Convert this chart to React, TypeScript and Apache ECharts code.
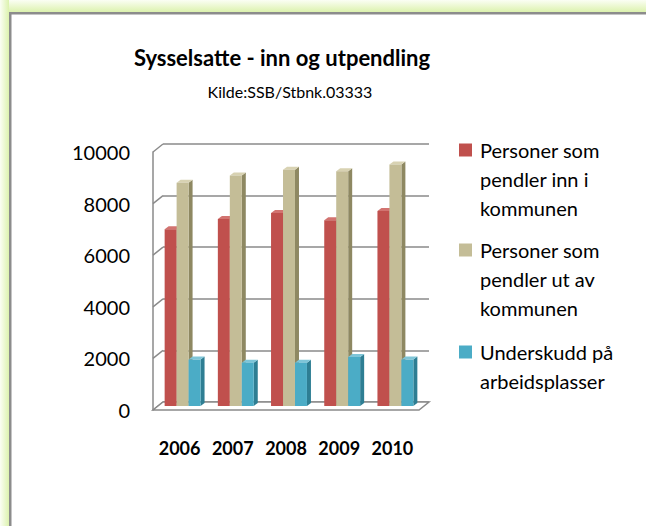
import React, { useEffect, useRef } from "react";
import * as echarts from "echarts";

const years = ["2006", "2007", "2008", "2009", "2010"];
const innPendling = [6850, 7250, 7480, 7200, 7560];
const utPendling = [8650, 8930, 9160, 9100, 9360];
const underskudd = [1800, 1680, 1680, 1900, 1800];
const yTicks = [0, 2000, 4000, 6000, 8000, 10000];

const seriesNames = [
  "Personer som\npendler inn i\nkommunen",
  "Personer som\npendler ut av\nkommunen",
  "Underskudd på\narbeidsplasser",
];
const faceColors = [
  { front: "#C0504D", side: "#8C3A37", top: "#D27370" },
  { front: "#C4BD97", side: "#8E8862", top: "#D8D2B2" },
  { front: "#4BACC6", side: "#2E7E93", top: "#7EC5D8" },
];

const FONT = "Lato, 'Open Sans', sans-serif";
const GRID_LEFT = 153;
const GRID_TOP = 152;
const GRID_W = 266;
const GRID_H = 258;
const DEPTH_X = 10;
const DEPTH_Y = 8;
const GRAY = "#8a8a8a";

function barSeries(k: number, values: number[]) {
  return {
    type: "custom",
    name: seriesNames[k],
    xAxisIndex: 0,
    yAxisIndex: 0,
    clip: false,
    z: 10 + k,
    data: values.map((v, i) => [i, v]),
    renderItem: (params: any, api: any) => {
      const idx = api.value(0);
      const v = api.value(1);
      const catW = api.size([1, 0])[0];
      const base = api.coord([idx, 0]);
      const top = api.coord([idx, v]);
      const bw = catW * 0.225;
      const x0 = base[0] - 1.5 * bw + k * bw + 3;
      const y0 = base[1] - 4;
      const yt = top[1] - 4;
      const dx = 4;
      const dy = 3;
      const c = faceColors[k];
      return {
        type: "group",
        children: [
          {
            type: "polygon",
            shape: {
              points: [
                [x0 + bw, y0],
                [x0 + bw + dx, y0 - dy],
                [x0 + bw + dx, yt - dy],
                [x0 + bw, yt],
              ],
            },
            style: { fill: c.side },
          },
          {
            type: "polygon",
            shape: {
              points: [
                [x0, yt],
                [x0 + bw, yt],
                [x0 + bw + dx, yt - dy],
                [x0 + dx, yt - dy],
              ],
            },
            style: { fill: c.top },
          },
          {
            type: "rect",
            shape: { x: x0, y: yt, width: bw, height: y0 - yt },
            style: { fill: c.front },
          },
        ],
      };
    },
  };
}

export default function App() {
  const ref = useRef<HTMLDivElement>(null);
  useEffect(() => {
    document.body.style.margin = "0";
    if (!ref.current) return;
    const chart = echarts.init(ref.current, undefined, { renderer: "svg" });
    const legendTop = [135.5, 235.5, 337.5];
    const legendGraphics: any[] = [];
    seriesNames.forEach((n, k) => {
      legendGraphics.push({
        type: "rect",
        shape: { x: 459, y: legendTop[k] + 8, width: 13, height: 13 },
        style: { fill: faceColors[k].front },
      });
      legendGraphics.push({
        type: "text",
        x: 480,
        y: legendTop[k],
        style: {
          text: n,
          font: `20px ${FONT}`,
          lineHeight: 29,
          fill: "#000",
          verticalAlign: "top",
        },
      });
    });

    chart.setOption({
      animation: false,
      backgroundColor: "#ffffff",
      title: [
        {
          text: "Sysselsatte - inn og utpendling",
          left: 277,
          top: 41,
          textAlign: "center",
          textStyle: { fontFamily: FONT, fontSize: 22, fontWeight: "bold", color: "#000" },
        },
        {
          text: "Kilde:SSB/Stbnk.03333",
          left: 285,
          top: 78,
          textAlign: "center",
          textStyle: { fontFamily: FONT, fontSize: 16, fontWeight: "normal", color: "#000" },
        },
      ],
      graphic: [
        {
          type: "rect",
          shape: { x: 0, y: 0, width: 646, height: 12 },
          style: {
            fill: new echarts.graphic.LinearGradient(0, 0, 0, 1, [
              { offset: 0, color: "#fbfef4" },
              { offset: 1, color: "#dcf2ae" },
            ]),
          },
        },
        {
          type: "rect",
          shape: { x: 0, y: 0, width: 9, height: 526 },
          style: {
            fill: new echarts.graphic.LinearGradient(0, 0, 1, 0, [
              { offset: 0, color: "#fbfef4" },
              { offset: 1, color: "#dcf2ae" },
            ]),
          },
        },
        {
          type: "rect",
          shape: { x: 9, y: 12, width: 637, height: 2.5 },
          style: { fill: "#8c8c8c" },
        },
        {
          type: "rect",
          shape: { x: 9, y: 12, width: 2.5, height: 514 },
          style: { fill: "#8c8c8c" },
        },
        ...legendGraphics,
      ],
      grid: [
        { left: GRID_LEFT, top: GRID_TOP, width: GRID_W, height: GRID_H },
        { left: GRID_LEFT + DEPTH_X, top: GRID_TOP - DEPTH_Y, width: GRID_W, height: GRID_H },
      ],
      xAxis: [
        {
          type: "category",
          gridIndex: 0,
          data: years,
          axisLine: { show: false },
          axisTick: { show: false },
          axisLabel: {
            interval: 0,
            margin: 29,
            fontFamily: FONT,
            fontSize: 18,
            fontWeight: "bold",
            color: "#000",
          },
        },
        {
          type: "category",
          gridIndex: 1,
          data: years,
          show: false,
        },
      ],
      yAxis: [
        {
          type: "value",
          gridIndex: 0,
          min: 0,
          max: 10000,
          interval: 2000,
          axisLine: { show: true, lineStyle: { color: GRAY, width: 1.5 } },
          axisTick: { show: false },
          splitLine: { show: false },
          axisLabel: {
            margin: 23,
            fontFamily: FONT,
            fontSize: 20,
            color: "#000",
            formatter: (v: number) => String(v),
          },
        },
        {
          type: "value",
          gridIndex: 1,
          min: 0,
          max: 10000,
          interval: 2000,
          axisLine: { show: false },
          axisTick: { show: false },
          axisLabel: { show: false },
          splitLine: { show: true, lineStyle: { color: GRAY, width: 1.5 } },
        },
      ],
      series: [
        {
          type: "custom",
          xAxisIndex: 0,
          yAxisIndex: 0,
          clip: false,
          z: 3,
          data: yTicks.map((v) => [0, v]),
          renderItem: (params: any, api: any) => {
            const x = params.coordSys.x;
            const y = api.coord([0, api.value(1)])[1];
            return {
              type: "line",
              shape: { x1: x, y1: y, x2: x + DEPTH_X, y2: y - DEPTH_Y },
              style: { stroke: GRAY, lineWidth: 1.5 },
            };
          },
        },
        {
          type: "custom",
          xAxisIndex: 0,
          yAxisIndex: 0,
          clip: false,
          z: 4,
          data: [[0, 0]],
          renderItem: (params: any, api: any) => {
            const cs = params.coordSys;
            const y = api.coord([0, 0])[1];
            const x = cs.x;
            const w = cs.width;
            return {
              type: "polygon",
              shape: {
                points: [
                  [x, y],
                  [x + w, y],
                  [x + w + DEPTH_X, y - DEPTH_Y],
                  [x + DEPTH_X, y - DEPTH_Y],
                ],
              },
              style: { fill: "#ffffff", stroke: GRAY, lineWidth: 1.5 },
            };
          },
        },
        barSeries(0, innPendling),
        barSeries(1, utPendling),
        barSeries(2, underskudd),
      ],
    });
    return () => chart.dispose();
  }, []);
  return <div ref={ref} style={{ width: 646, height: 526 }} />;
}
